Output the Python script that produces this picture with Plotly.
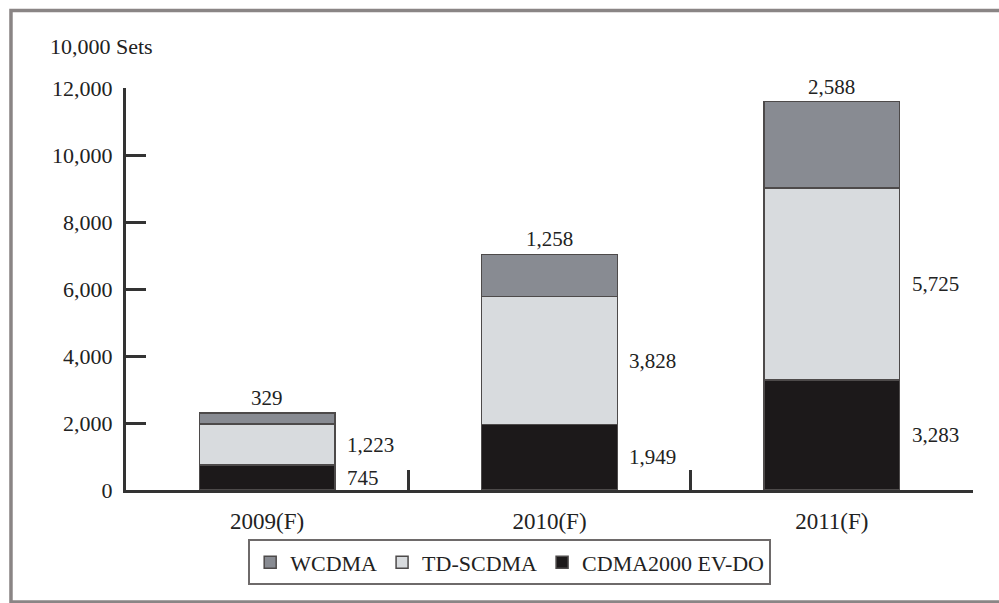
import plotly.graph_objects as go

years = ["2009(F)", "2010(F)", "2011(F)"]
cdma2000 = [745, 1949, 3283]
td_scdma = [1223, 3828, 5725]
wcdma = [329, 1258, 2588]
y_ticks = [0, 2000, 4000, 6000, 8000, 10000, 12000]

FONT = "Liberation Serif, Times New Roman, DejaVu Serif, serif"
TXT = "#222222"
OUTLINE = "#4d4a4a"
BAR_W = 0.48

fig = go.Figure()
series = [
    ("CDMA2000 EV-DO", cdma2000, "#1c191a"),
    ("TD-SCDMA", td_scdma, "#d8dbde"),
    ("WCDMA", wcdma, "#888b92"),
]
for name, vals, col in series:
    fig.add_trace(go.Bar(
        x=years, y=vals, name=name, width=BAR_W,
        marker=dict(color=col, line=dict(color=OUTLINE, width=1.5)),
    ))

label_font = dict(family=FONT, size=21, color=TXT)
annotations = []
for i, yr in enumerate(years):
    total = cdma2000[i] + td_scdma[i] + wcdma[i]
    # WCDMA value sits above the stack
    annotations.append(dict(
        x=i, y=total, text=f"{wcdma[i]:,}", showarrow=False,
        xanchor="center", yanchor="bottom", yshift=1, font=label_font))
    # TD-SCDMA and CDMA2000 values to the right of their segments
    annotations.append(dict(
        x=i + BAR_W / 2, y=cdma2000[i] + td_scdma[i] / 2, text=f"{td_scdma[i]:,}",
        showarrow=False, xanchor="left", yanchor="middle", xshift=10,
        font=label_font))
    annotations.append(dict(
        x=i + BAR_W / 2, y=cdma2000[i] / 2, text=f"{cdma2000[i]:,}",
        showarrow=False, xanchor="left", yanchor="middle", xshift=10,
        font=label_font))

annotations.append(dict(
    xref="paper", yref="paper", x=-0.092, y=1.102, text="10,000 Sets",
    showarrow=False, xanchor="left", yanchor="middle",
    font=dict(family=FONT, size=22, color=TXT)))

fig.update_layout(
    barmode="stack",
    width=999, height=603,
    margin=dict(l=126, r=26, t=88, b=113),
    paper_bgcolor="white", plot_bgcolor="white",
    font=dict(family=FONT, size=22, color=TXT),
    showlegend=True,
    legend=dict(
        orientation="h", traceorder="reversed",
        x=0.453, y=-0.18, xanchor="center", yanchor="middle",
        bordercolor="#6e6a6a", borderwidth=2, bgcolor="white",
        font=dict(family=FONT, size=22, color=TXT),
        itemwidth=30,
    ),
    xaxis=dict(
        range=[-0.5, 2.5], showgrid=False,
        showline=True, linecolor="#333333", linewidth=3,
        ticks="inside", tickson="boundaries", ticklen=20, tickwidth=2.5,
        tickcolor="#333333", ticklabelstandoff=8,
        tickfont=dict(family=FONT, size=23, color=TXT),
    ),
    yaxis=dict(
        range=[0, 12000], tickvals=y_ticks,
        ticktext=[f"{v:,}" for v in y_ticks],
        showgrid=False, zeroline=False,
        showline=True, linecolor="#333333", linewidth=3,
        ticks="inside", ticklen=20, tickwidth=3, tickcolor="#333333",
        ticklabelstandoff=6,
        tickfont=dict(family=FONT, size=22, color=TXT),
    ),
    annotations=annotations,
    shapes=[dict(
        type="rect", xref="paper", yref="paper",
        x0=-0.1358, x1=1.06, y0=-0.2786, y1=1.1928,
        line=dict(color="#8a8585", width=3.5), fillcolor="rgba(0,0,0,0)",
        layer="below",
    )],
)

fig.write_html("out.html")
